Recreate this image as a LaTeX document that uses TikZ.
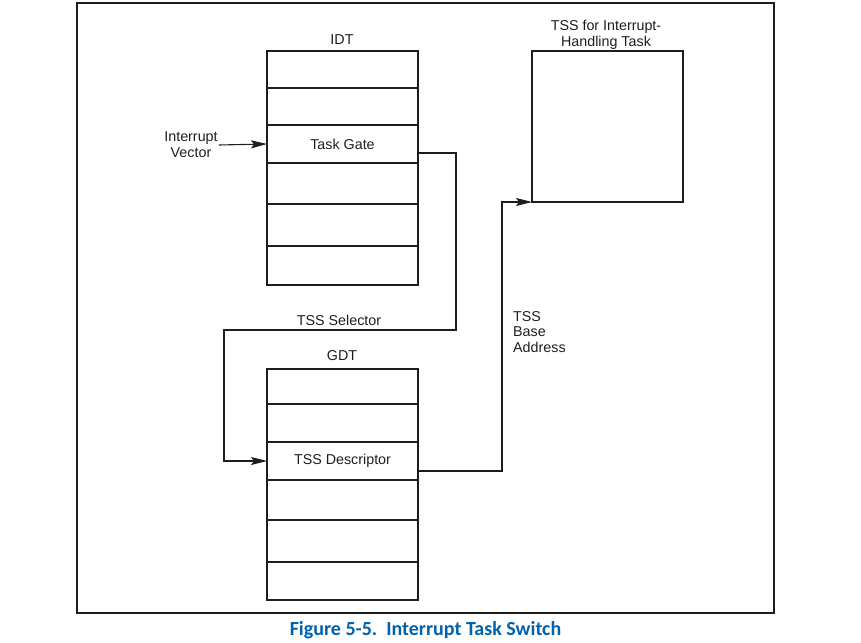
\documentclass[tikz,border=0pt]{standalone}
\usepackage{fontspec}
\setmainfont{Liberation Sans}
\newfontfamily\capfont{Carlito}
\usetikzlibrary{arrows.meta, positioning, calc}
\definecolor{ink}{RGB}{30,30,30}
\definecolor{capblue}{RGB}{0,98,172}

\begin{document}
\begin{tikzpicture}[x=1pt, y=-1pt,
    every node/.style={font=\fontsize{14.3}{15.8}\selectfont, text=ink},
    cell/.style={draw=ink, line width=1.1pt, minimum width=151pt, inner sep=0pt, outer sep=0pt},
    a/.style={-{Stealth[length=16pt, width=8pt, inset=3pt]}, line width=1.1pt, draw=ink},
    lbl/.style={inner sep=1pt, align=center}
]
\useasboundingbox (0,0) rectangle (861,642);
\draw[line width=1.3pt, draw=ink] (77,3) rectangle (774,613);
% IDT
\foreach \i/\ya/\yb/\txt in {1/51/88/{}, 2/88/125/{}, 3/125/163/Task Gate, 4/163/204/{}, 5/204/246/{}, 6/246/285/{}}
  \node[cell, minimum height={(\yb-\ya)*1pt}] (idt\i) at (342.5,{(\ya+\yb)/2}) {\txt};
% GDT
\foreach \i/\ya/\yb/\txt in {1/369/404/{}, 2/404/442/{}, 3/442/480/TSS Descriptor, 4/480/520/{}, 5/520/562/{}, 6/562/600/{}}
  \node[cell, minimum height={(\yb-\ya)*1pt}] (gdt\i) at (342.5,{(\ya+\yb)/2}) {\txt};
\node[cell, minimum height=151pt] (tss) at (607.5,126.5) {};
\node[lbl] (idtlbl) at (342,40) {IDT};
\node[lbl] (gdtlbl) at (342,356) {GDT};
\node[lbl] (tsslbl) at (606,35) {TSS for Interrupt-\\Handling Task};
\node[lbl] (vec) at (191,145) {Interrupt\\Vector};
\node[lbl] (sel) at (339,320) {TSS Selector};
\node[lbl, align=left, anchor=west] (base) at (512,332) {TSS\\Base\\Address};
\node[font=\capfont\bfseries\fontsize{20}{22}\selectfont, text=capblue] (cap) at (425.5,630) {Figure 5-5.\ \ Interrupt Task Switch};
\coordinate (selne) at (456,330);
\coordinate (selnw) at (224,330);
\coordinate (basex) at (502,202);
\draw[a] (vec.east) -- (idt3.west);
\draw[a] ($(idt3.east)+(0,9)$) -| (selne) -- (selnw) |- (gdt3.west);
\draw[a] ($(gdt3.east)+(0,10)$) -| (basex) -- (tss.south west);
\end{tikzpicture}
\end{document}
